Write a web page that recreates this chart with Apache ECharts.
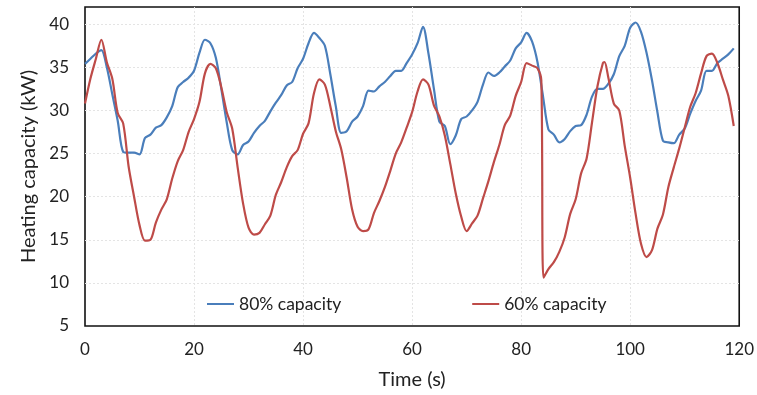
<!DOCTYPE html>
<html>
<head>
<meta charset="utf-8">
<script src="https://cdn.jsdelivr.net/npm/echarts@6/dist/echarts.min.js"></script>
<style>
  html, body { margin: 0; padding: 0; background: #fff; }
  #chart { width: 757px; height: 395px; }
</style>
</head>
<body>
<div id="chart"></div>
<script>
// time (s) and heating capacity (kW)
const blueTime = [
  0, 1, 2, 3, 4, 5, 6, 7, 8, 9, 10, 11, 12, 13, 14, 15, 16, 17, 18, 19,
  20, 21, 22, 23, 24, 25, 26, 27, 28, 29, 30, 31, 32, 33, 34, 35, 36, 37, 38, 39,
  40, 41, 42, 43, 44, 45, 46, 47, 48, 49, 50, 51, 52, 53, 54, 55, 56, 57, 58, 59,
  60, 61, 62, 63, 64, 65, 66, 67, 68, 69, 70, 71, 72, 73, 74, 75, 76, 77, 78, 79,
  80, 81, 82, 83, 84, 85, 86, 87, 88, 89, 90, 91, 92, 93, 94, 95, 96, 97, 98, 99,
  100, 101, 102, 103, 104, 105, 106, 107, 108, 109, 110, 111, 112, 113, 114, 115, 116, 117, 118, 119
];
const blueCap = [
  35.4, 36.0, 36.6, 37.0, 35.0, 31.9, 28.8, 25.2, 25.1, 25.1, 24.9, 26.8, 27.2, 28.0, 28.3, 29.2, 30.5, 32.7, 33.3, 33.8,
  34.6, 36.7, 38.2, 37.8, 36.1, 32.5, 28.6, 25.4, 24.9, 26.0, 26.4, 27.4, 28.2, 28.8, 29.9, 30.9, 31.8, 32.9, 33.3, 34.9,
  36.0, 37.8, 39.0, 38.4, 37.5, 34.2, 30.5, 27.4, 27.6, 28.7, 29.3, 30.5, 32.3, 32.2, 32.8, 33.3, 34.0, 34.6, 34.6, 35.5,
  36.5, 37.8, 39.7, 36.6, 32.5, 28.7, 28.2, 26.1, 27.1, 29.0, 29.3, 30.0, 31.0, 33.0, 34.4, 34.0, 34.4, 35.1, 35.8, 37.2,
  37.9, 39.0, 38.0, 35.6, 31.7, 27.8, 27.2, 26.3, 26.7, 27.6, 28.2, 28.3, 29.5, 31.6, 32.5, 32.5, 33.1, 34.2, 36.3, 37.5,
  39.6, 40.2, 39.1, 36.7, 33.5, 29.8, 26.5, 26.3, 26.2, 27.2, 27.9, 29.6, 31.1, 32.3, 34.6, 34.6, 35.5, 36.0, 36.5, 37.2
];

const redTime = [
  0, 1, 2, 3, 4, 5, 6, 7, 8, 9, 10, 11, 12, 13, 14, 15, 16, 17, 18, 19,
  20, 21, 22, 23, 24, 25, 26, 27, 28, 29, 30, 31, 32, 33, 34, 35, 36, 37, 38, 39,
  40, 41, 42, 43, 44, 45, 46, 47, 48, 49, 50, 51, 52, 53, 54, 55, 56, 57, 58, 59,
  60, 61, 62, 63, 64, 65, 66, 67, 68, 69, 70, 71, 72, 73, 74, 75, 76, 77, 78, 79,
  80, 81, 82, 83, 83.7, 84.1, 85, 86, 87, 88, 89, 90, 91, 92, 93, 94, 95, 95.3, 96, 97, 98, 99,
  100, 101, 102, 103, 104, 105, 106, 107, 108, 109, 110, 111, 112, 113, 114, 115, 116, 117, 118, 119
];
const redCap = [
  30.8, 33.7, 36.0, 38.2, 35.6, 33.7, 29.7, 28.5, 23.5, 20.0, 16.7, 14.9, 15.0, 17.0, 18.5, 19.7, 22.1, 24.1, 25.4, 27.5,
  29.0, 31.0, 34.3, 35.4, 34.9, 32.7, 29.8, 27.9, 23.4, 19.2, 16.4, 15.6, 15.8, 16.8, 17.8, 20.2, 21.7, 23.4, 24.7, 25.4,
  27.3, 28.5, 32.0, 33.6, 33.0, 30.5, 27.6, 25.5, 22.2, 18.5, 16.5, 16.0, 16.2, 18.1, 19.5, 21.1, 23.0, 25.0, 26.3, 28.0,
  29.8, 32.2, 33.6, 33.0, 30.6, 29.3, 27.1, 23.8, 20.4, 17.7, 16.0, 16.9, 17.8, 19.8, 21.8, 24.0, 26.0, 28.3, 29.4, 31.7,
  33.3, 35.5, 35.2, 34.9, 33.5, 10.6, 11.6, 12.4, 13.6, 15.3, 18.0, 19.7, 22.7, 24.4, 28.6, 32.8, 35.5, 35.6, 33.8, 30.8, 30.0, 25.9,
  22.2, 18.0, 14.5, 13.0, 13.8, 16.3, 17.9, 21.1, 23.4, 25.6, 28.0, 30.4, 32.0, 34.3, 36.3, 36.6, 35.5, 33.6, 31.7, 28.2
];

const seriesNames = ["80% capacity", "60% capacity"];
const seriesColors = ["#4a7ebb", "#be4b48"];

const chart = echarts.init(document.getElementById("chart"));
const font = "Lato, 'Open Sans', sans-serif";
const gridLine = { show: true, showMinLine: false, showMaxLine: false, lineStyle: { color: "#e4e4e4", type: [2, 2] } };

const option = {
  backgroundColor: "#fff",
  animation: false,
  textStyle: { fontFamily: font },
  grid: {
    left: 85, right: 17, top: 7, bottom: 67,
    show: true,
    borderColor: "#111",
    borderWidth: 1.6,
  },
  legend: {
    data: seriesNames,
    left: 202,
    top: 290,
    icon: "rect",
    itemWidth: 27,
    itemHeight: 2,
    itemGap: 131,
    textStyle: { fontSize: 17.5, color: "#222", fontFamily: font },
  },
  xAxis: {
    type: "value",
    min: 0, max: 120, interval: 20,
    name: "Time (s)",
    nameLocation: "middle",
    nameGap: 44,
    nameTextStyle: { fontSize: 20, color: "#222" },
    axisLine: { show: false },
    axisTick: { show: false },
    axisLabel: { fontSize: 17, color: "#222", margin: 15 },
    splitLine: gridLine,
  },
  yAxis: {
    type: "value",
    min: 5, max: 42, interval: 5,
    name: "Heating capacity (kW)",
    nameLocation: "middle",
    nameGap: 46,
    nameTextStyle: { fontSize: 20, color: "#222" },
    axisLine: { show: false },
    axisTick: { show: false },
    axisLabel: { fontSize: 17, color: "#222", margin: 16, showMaxLabel: false },
    splitLine: gridLine,
  },
  series: [
    {
      name: seriesNames[0],
      type: "line",
      smooth: 0.3,
      showSymbol: false,
      color: seriesColors[0],
      lineStyle: { width: 2.2, color: seriesColors[0] },
      data: blueTime.map((t, i) => [t, blueCap[i]]),
    },
    {
      name: seriesNames[1],
      type: "line",
      smooth: 0.3,
      showSymbol: false,
      color: seriesColors[1],
      lineStyle: { width: 2.2, color: seriesColors[1] },
      data: redTime.map((t, i) => [t, redCap[i]]),
    },
  ],
};

chart.setOption(option);
</script>
</body>
</html>
